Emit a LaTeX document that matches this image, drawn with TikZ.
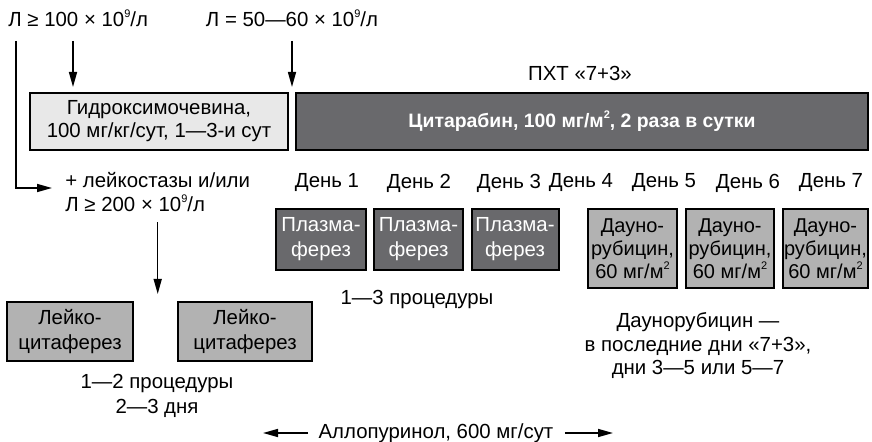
\documentclass[tikz,border=0pt]{standalone}
\usepackage{fontspec}
\setmainfont{Liberation Sans}
\usetikzlibrary{arrows.meta,calc}
\definecolor{darkfill}{RGB}{105,105,108}
\definecolor{midfill}{RGB}{178,178,178}
\definecolor{lightfill}{RGB}{232,232,232}
\newcommand\supnum[1]{\raisebox{0.85ex}{\fontsize{5.5}{6}\selectfont#1}}
\tikzset{
	txt/.style={inner sep=0pt, font=\fontsize{10.2}{12}\selectfont},
	boxlight/.style={draw=black, line width=1pt, fill=lightfill, inner sep=0pt, align=center, font=\fontsize{10.2}{11.5}\selectfont},
	boxdark/.style={draw=black, line width=1pt, fill=darkfill, text=white, inner sep=0pt, align=center, font=\fontsize{10.2}{12.5}\selectfont},
	boxmid/.style={draw=black, line width=1pt, fill=midfill, inner sep=0pt, align=center, font=\fontsize{10}{11.5}\selectfont},
	arr/.style={line width=0.75pt, -{Triangle[length=7.5pt,width=4pt]}}
}

\begin{document}
\begin{tikzpicture}[x=0.5pt, y=-0.5pt]
			%%%%% START %%%%%
			\useasboundingbox (0,0) rectangle (872,442);
			
			\node[txt, anchor=west] (lab100) at (8,18) {Л ≥ 100 × 10\supnum{9}/л};
			\node[txt] (lab50) at (292,18) {Л = 50—60 × 10\supnum{9}/л};
			\node[txt] (pxt) at (580,73) {ПХТ «7+3»};
			
			\node[boxlight, minimum width=129pt, minimum height=28.5pt] (hu) at (159,121.5) {Гидроксимочевина,\\100 мг/кг/сут, 1—3-и сут};
			\node[boxdark, minimum width=286pt, minimum height=28.5pt, font=\fontsize{9.7}{12}\selectfont\bfseries] (cyt) at (582,121.5) {Цитарабин, 100 мг/м\supnum{2}, 2 раза в сутки};
			
			\draw[arr, shorten >=2.5pt] ([xshift=32.5pt,yshift=-7pt]lab100.south west) coordinate (a1) -- (a1 |- hu.north);
			\draw[arr, shorten >=2.5pt] ([yshift=-7pt]lab50.south) -- (lab50.south |- cyt.north);
			
			\node[txt] (d1) at (327,183) {День 1};
			\node[txt] (d2) at (419,183) {День 2};
			\node[txt] (d3) at (509,183) {День 3};
			\node[txt] (d4) at (581,183) {День 4};
			\node[txt] (d5) at (664,183) {День 5};
			\node[txt] (d6) at (748,183) {День 6};
			\node[txt] (d7) at (831,183) {День 7};
			
			\node[txt, anchor=west, align=left] (leuk) at (65,192) {+ лейкостазы и/или\\Л ≥ 200 × 10\supnum{9}/л};
			\draw[arr, shorten >=6.5pt] ([xshift=4pt,yshift=-7pt]lab100.south west) |- ([yshift=2pt]leuk.west);
			
			\node[boxdark, minimum width=45pt, minimum height=30.5pt] (pl1) at (321,239.5) {Плазма-\\ферез};
			\node[boxdark, minimum width=44.5pt, minimum height=30.5pt] (pl2) at (418.5,239.5) {Плазма-\\ферез};
			\node[boxdark, minimum width=43.5pt, minimum height=30.5pt] (pl3) at (515,239.5) {Плазма-\\ферез};
			\node[txt] (proc13) at (417,299) {1—3 процедуры};
			
			\node[boxmid, minimum width=44.5pt, minimum height=39.5pt] (dn1) at (632.5,248.5) {Дауно-\\рубицин,\\60 мг/м\supnum{2}};
			\node[boxmid, minimum width=44pt, minimum height=39.5pt] (dn2) at (730,248.5) {Дауно-\\рубицин,\\60 мг/м\supnum{2}};
			\node[boxmid, minimum width=42.5pt, minimum height=39.5pt] (dn3) at (825.5,248.5) {Дауно-\\рубицин,\\60 мг/м\supnum{2}};
			\node[txt, align=center, font=\fontsize{10.2}{11.75}\selectfont] (dnote) at (698,346) {Даунорубицин —\\в последние дни «7+3»,\\дни 3—5 или 5—7};
			
			\node[boxmid, minimum width=63pt, minimum height=29.5pt, font=\fontsize{10.2}{12.5}\selectfont] (lc1) at (70,331.5) {Лейко-\\цитаферез};
			\node[boxmid, minimum width=67pt, minimum height=29.5pt, font=\fontsize{10.2}{12.5}\selectfont] (lc2) at (245,331.5) {Лейко-\\цитаферез};
			\draw[arr, shorten <=5pt, shorten >=3.5pt] (leuk.south) -- (leuk.south |- lc1.north);
			\node[txt, align=center, font=\fontsize{10.2}{12.5}\selectfont] (proc12) at (157,395.5) {1—2 процедуры\\2—3 дня};
			
			\node[txt] (allo) at (436,433) {Аллопуринол, 600 мг/сут};
			\coordinate (alloL) at (263,433);
			\coordinate (alloR) at (613,433);
			\draw[arr] ([xshift=-5pt]allo.west) -- (alloL);
			\draw[arr] ([xshift=5.5pt]allo.east) -- (alloR);
			
			%%%%% END %%%%%
\end{tikzpicture}
\end{document}
